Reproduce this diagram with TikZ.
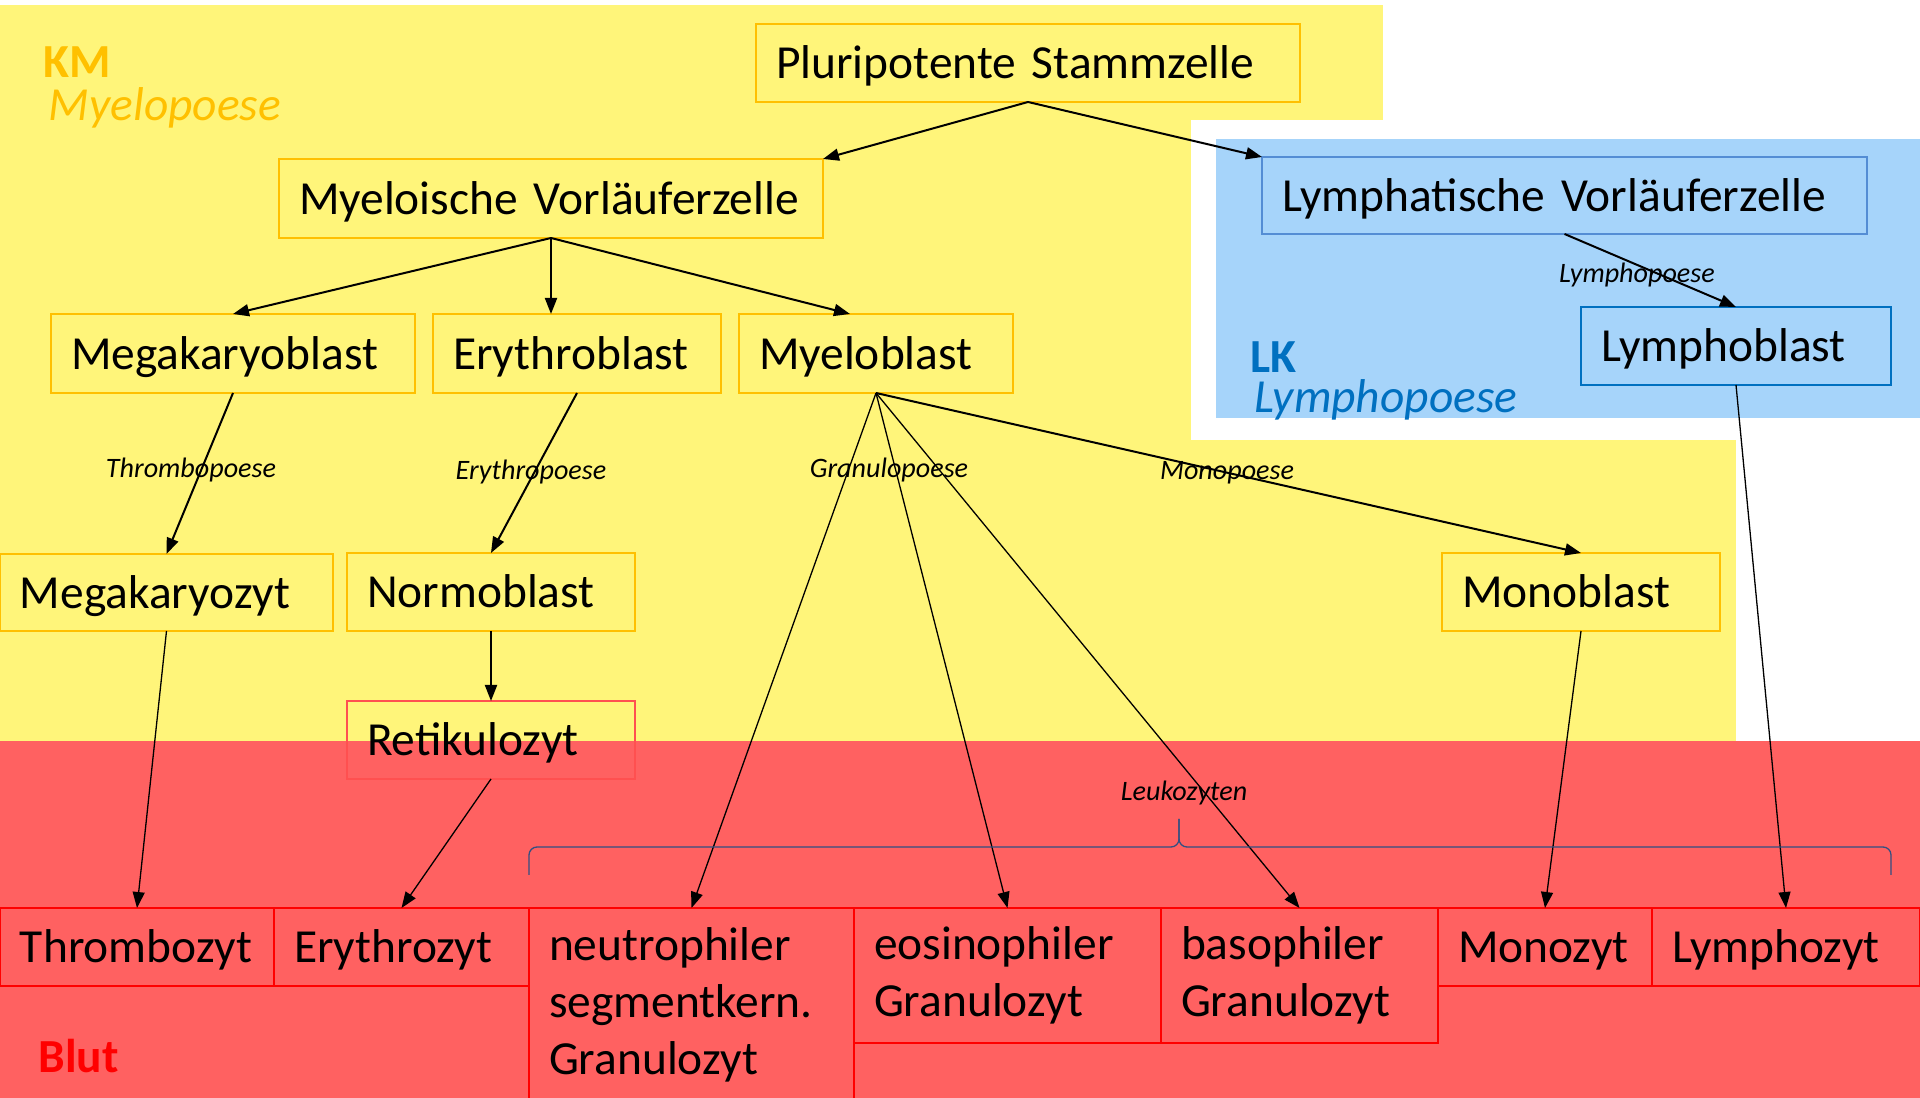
\documentclass[tikz,border=0pt]{standalone}
\usepackage{fontspec}
\setmainfont{Carlito}
\usepackage{xcolor}
\usetikzlibrary{arrows.meta,positioning}
\tikzset{>={Triangle[length=1.6mm,width=1.2mm]}}

\definecolor{kmgelb}{RGB}{255,245,122}
\definecolor{kmrand}{RGB}{255,192,0}
\definecolor{lkblau}{RGB}{166,212,250}
\definecolor{lkrand}{RGB}{84,141,212}
\definecolor{lkdunkel}{RGB}{0,112,192}
\definecolor{blutrot}{RGB}{255,97,97}
\definecolor{retikrand}{RGB}{255,80,80}
\definecolor{klammer}{RGB}{50,80,130}

\begin{document}
\begin{tikzpicture}[
    kasten/.style={draw=kmrand, line width=0.2mm, inner xsep=2mm, inner ysep=0pt, outer sep=0pt, align=left, font=\fontsize{13.5}{16.2}\selectfont},
    zelle/.style={kasten, text height=1.0em, text depth=0.11em},
    blutzelle/.style={zelle, draw=red},
    mehrzeilig/.style={kasten, draw=red},
    poese/.style={font=\fontsize{8}{9.6}\selectfont\itshape, inner sep=0pt},
    bereich/.style={anchor=base west, inner sep=0pt, font=\fontsize{13.5}{16.2}\selectfont#1},
    pfeil/.style={->, line width=0.2mm},
    duenn/.style={->, line width=0.13mm}
]
    \useasboundingbox (0,0) rectangle (19.2,-10.98);
    \fill[white] (0,0) rectangle (19.2,-10.98);
    \fill[kmgelb] (0,-0.05) rectangle (13.83,-1.20);
    \fill[kmgelb] (0,-0.05) rectangle (11.91,-7.41);
    \fill[kmgelb] (0,-4.40) rectangle (17.36,-7.41);
    \fill[lkblau] (12.16,-1.39) rectangle (19.2,-4.18);
    \fill[blutrot] (0,-7.41) rectangle (19.2,-10.98);

    \node[bereich=\bfseries, text=kmrand] (km) at (0.43,-0.78) {KM};
    \node[bereich=\itshape, text=kmrand] (myelopoese) at (0.48,-1.21) {Myelopoese};
    \node[bereich=\bfseries, text=lkdunkel] (lk) at (12.50,-3.73) {LK};
    \node[bereich=\itshape, text=lkdunkel] (lymphopoese) at (12.54,-4.13) {Lymphopoese};
    \node[bereich=\bfseries, text=red] (blut) at (0.38,-10.72) {Blut};

    \node[zelle, text width=50.4mm, minimum height=7.8mm] (pluri) at (10.28,-0.63) {Pluripotente Stammzelle};
    \node[zelle, text width=50.4mm, minimum height=7.9mm] (myelo) at (5.51,-1.985) {Myeloische Vorläuferzelle};
    \node[zelle, draw=lkrand, text width=56.5mm, minimum height=7.7mm] (lymph) at (15.645,-1.955) {Lymphatische Vorläuferzelle};
    \node[zelle, text width=32.4mm, minimum height=7.9mm] (megab) at (2.33,-3.535) {Megakaryoblast};
    \node[zelle, text width=24.8mm, minimum height=7.9mm] (erythb) at (5.77,-3.535) {Erythroblast};
    \node[zelle, text width=23.4mm, minimum height=7.9mm] (myelob) at (8.76,-3.535) {Myeloblast};
    \node[zelle, draw=lkdunkel, text width=27.0mm, minimum height=7.8mm] (lymphb) at (17.36,-3.46) {Lymphoblast};
    \node[zelle, text width=29.3mm, minimum height=7.7mm] (megaz) at (1.665,-5.925) {Megakaryozyt};
    \node[zelle, text width=24.8mm, minimum height=7.8mm] (normo) at (4.91,-5.92) {Normoblast};
    \node[zelle, draw=retikrand, text width=24.8mm, minimum height=7.8mm] (retik) at (4.91,-7.40) {Retikulozyt};
    \node[zelle, text width=23.8mm, minimum height=7.8mm] (monob) at (15.81,-5.92) {Monoblast};

    \node[blutzelle, text width=23.4mm, minimum height=7.8mm] (thrombz) at (1.37,-9.47) {Thrombozyt};
    \node[blutzelle, text width=21.5mm, minimum height=7.8mm] (erythz) at (4.015,-9.47) {Erythrozyt};
    \node[mehrzeilig, text width=28.5mm, minimum height=19.3mm] (neutro) at (6.915,-10.045) {neutrophiler\\segmentkern.\\Granulozyt};
    \node[mehrzeilig, text width=26.7mm, minimum height=13.5mm] (eos) at (10.075,-9.755) {eosinophiler\\Granulozyt};
    \node[mehrzeilig, text width=23.7mm, minimum height=13.5mm] (baso) at (12.995,-9.755) {basophiler\\Granulozyt};
    \node[blutzelle, text width=17.4mm, minimum height=7.8mm] (monoz) at (15.45,-9.47) {Monozyt};
    \node[blutzelle, text width=22.8mm, minimum height=7.8mm] (lymphz) at (17.86,-9.47) {Lymphozyt};

    \node[poese] (thrombopoese) at (1.91,-4.70) {Thrombopoese};
    \node[poese] (erythropoese) at (5.31,-4.72) {Erythropoese};
    \node[poese] (granulopoese) at (8.89,-4.70) {Granulopoese};
    \node[poese] (monopoese) at (12.27,-4.73) {Monopoese};
    \node[poese] (lymphopoese2) at (16.37,-2.75) {Lymphopoese};
    \node[poese] (leukozyten) at (11.84,-7.93) {Leukozyten};

    \draw[pfeil] (pluri.south) -- (myelo.north east);
    \draw[pfeil] (pluri.south) -- (lymph.north west);
    \draw[pfeil] (myelo.south) -- (megab.north);
    \draw[pfeil] (myelo.south) -- (myelo.south |- erythb.north);
    \draw[pfeil] (myelo.south) -- ([xshift=-2.6mm]myelob.north);
    \draw[pfeil] (lymph.south) -- (lymphb.north);
    \draw[pfeil] (megab.south) -- (megaz.north);
    \draw[pfeil] (erythb.south) -- (normo.north);
    \draw[pfeil] (normo.south) -- (retik.north);
    \draw[pfeil] (myelob.south) -- (monob.north);
    \draw[duenn] (megaz.south) -- (thrombz.north);
    \draw[duenn] (retik.south) -- (erythz.north);
    \draw[duenn] (myelob.south) -- (neutro.north);
    \draw[duenn] (myelob.south) -- (eos.north);
    \draw[duenn] (myelob.south) -- (baso.north);
    \draw[duenn] (monob.south) -- (monoz.north);
    \draw[duenn] (lymphb.south) -- (lymphz.north);

    \draw[klammer, line width=0.13mm, rounded corners=0.8mm] (5.29,-8.75) -- (5.29,-8.47) -- (11.79,-8.47) -- (11.79,-8.19);
    \draw[klammer, line width=0.13mm, rounded corners=0.8mm] (11.79,-8.19) -- (11.79,-8.47) -- (18.91,-8.47) -- (18.91,-8.75);
\end{tikzpicture}
\end{document}
